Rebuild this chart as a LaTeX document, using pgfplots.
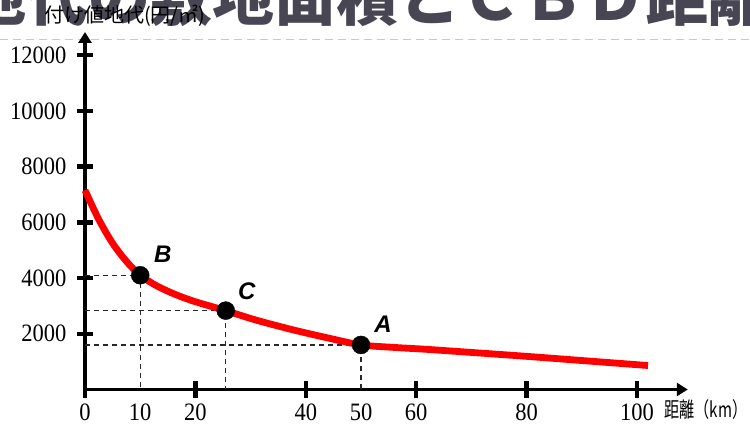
\documentclass[border=0pt]{standalone}
\usepackage{fontspec}
\usepackage{pgfplots}
\pgfplotsset{compat=1.18}
\usetikzlibrary{arrows.meta}
\setmainfont{Liberation Serif}
\newfontfamily\tickfont[FakeStretch=0.9]{Liberation Serif}
\newfontfamily\jp{Noto Sans CJK JP}
\newfontfamily\jpnarrow[FakeStretch=0.72]{Noto Sans CJK JP}
\newfontfamily\labfont{Liberation Sans}
\definecolor{titlegray}{RGB}{72,70,82}
\definecolor{rulegray}{RGB}{190,204,218}
\definecolor{curvered}{RGB}{255,0,0}
\definecolor{guide}{RGB}{40,40,40}

\begin{document}
\begin{tikzpicture}[x=1pt,y=1pt]
\path[use as bounding box] (0,0) rectangle (750,425);
% slide heading, only its lower part is on the page
\begin{scope}
  \clip (0,0) rectangle (750,425);
  \node[anchor=base west, inner sep=0, text=titlegray,
        font={\jp\bfseries\fontsize{62}{62}\selectfont}]
        at (-36,404) {地代の敷地面積とＣＢＤ距離};
\end{scope}
\draw[rulegray, line width=1.5pt, dash pattern=on 8pt off 5pt] (0,385.5) -- (750,385.5);

\begin{axis}[
  at={(85pt,35.5pt)}, anchor=south west,
  scale only axis, width=602.8pt, height=357.5pt,
  xmin=0, xmax=109.2, ymin=0, ymax=12830,
  scaled x ticks=false, scaled y ticks=false,
  axis lines=left,
  axis line style={line width=3.5pt, -{Triangle[length=11pt,width=13pt]}},
  xtick={0,20,40,60,80,100},
  ytick={2000,4000,6000,8000,10000,12000},
  extra x ticks={10,50},
  extra x tick style={major tick length=0pt, xticklabel style={yshift=-8.5pt}},
  tick align=center,
  major tick length=17pt,
  tick style={line width=4.5pt, black},
  ticklabel style={font=\tickfont\fontsize{25}{25}\selectfont},
  yticklabel style={inner sep=0pt, anchor=east, xshift=-10pt},
  xticklabel style={inner sep=0pt, anchor=north, yshift=-6pt},
  /pgf/number format/assume math mode=true,
  /pgf/number format/1000 sep={},
  xlabel={距離（km）},
  xlabel style={font=\jpnarrow\fontsize{21}{21}\selectfont, inner sep=0pt,
                at={(axis description cs:0.961,-0.0573)}, anchor=west},
  ylabel={付け値地代(円/㎡)},
  ylabel style={font=\jp\fontsize{20}{20}\selectfont, inner sep=0pt, rotate=-90,
                at={(axis description cs:0.066,1.0447)}, anchor=center},
  clip=false,
]
% guide lines from each marked location to both axes
\addplot[guide, line width=1.2pt, dash pattern=on 5pt off 4pt] coordinates {(0,4100) (10,4100) (10,0)};
\addplot[guide, line width=1.2pt, dash pattern=on 5pt off 4pt] coordinates {(0,2830) (25.5,2830) (25.5,0)};
\addplot[guide, line width=1.2pt, dash pattern=on 5pt off 4pt] coordinates {(0,1600) (50,1600) (50,0)};
% bid-rent curve
\addplot[curvered, line width=6.8pt, smooth] coordinates {
  (0,7150) (2.5,6100) (5,5250) (7.5,4600) (10,4100) (13,3720)
  (16.5,3400) (20,3150) (25.5,2830) (31,2490) (37.7,2140) (44,1850)
  (50,1600) (56,1510) (62,1440) (70,1330) (80,1190) (90,1040) (102,860)};
% locations A, B, C
\addplot[only marks, mark=*, mark size=9pt, black] coordinates {(10,4100) (25.5,2830) (50,1600)};
\node[font=\labfont\bfseries\itshape\fontsize{24}{24}\selectfont] at (axis cs:14.1,4842) {B};
\node[font=\labfont\bfseries\itshape\fontsize{24}{24}\selectfont] at (axis cs:29.3,3520) {C};
\node[font=\labfont\bfseries\itshape\fontsize{24}{24}\selectfont] at (axis cs:54,2330) {A};
\end{axis}
\end{tikzpicture}
\end{document}
